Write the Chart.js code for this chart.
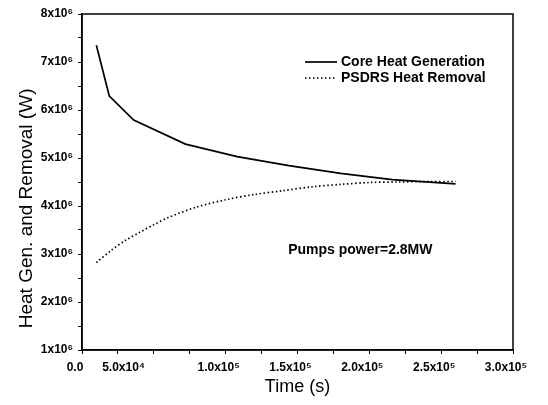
<!DOCTYPE html>
<html>
<head>
<meta charset="utf-8">
<script src="https://cdn.jsdelivr.net/npm/chart.js@4.4.1/dist/chart.umd.min.js"></script>
<style>
  html, body { margin: 0; padding: 0; background: #fff; }
  #wrap { width: 548px; height: 405px; }
</style>
</head>
<body>
<div id="wrap"><canvas id="heatChart"></canvas></div>
<script>
// values: time in s, power in W
const coreTime = [10000, 19000, 36000, 72000, 108000, 144000, 180000, 216000, 260000];
const coreHeat = [7.35e6, 6.29e6, 5.79e6, 5.29e6, 5.03e6, 4.84e6, 4.68e6, 4.55e6, 4.46e6];

const psdrsTime = [10000, 20000, 30000, 40000, 50000, 60000, 80000, 100000, 120000, 140000, 160000, 180000, 200000, 220000, 240000, 260000];
const psdrsHeat = [2.82e6, 3.07e6, 3.28e6, 3.45e6, 3.61e6, 3.76e6, 3.98e6, 4.13e6, 4.24e6, 4.32e6, 4.40e6, 4.45e6, 4.49e6, 4.50e6, 4.51e6, 4.51e6];

const seriesNames = ['Core Heat Generation', 'PSDRS Heat Removal'];

// tick labels as printed (the 5.0x10^4 one sits left of its tick in the original)
const xTickValues = [0, 50000, 100000, 150000, 200000, 250000, 300000];
const xTickLabels = ['0.0', '5.0x10⁴              ', '1.0x10⁵', '1.5x10⁵', '2.0x10⁵', '2.5x10⁵', '3.0x10⁵'];
const yTickValues = [1e6, 2e6, 3e6, 4e6, 5e6, 6e6, 7e6, 8e6];
const yTickLabels = ['1x10⁶', '2x10⁶', '3x10⁶', '4x10⁶', '5x10⁶', '6x10⁶', '7x10⁶', '8x10⁶'];

const noteText = 'Pumps power=2.8MW';
const noteAt = {x: 143500, y: 3.08e6};

const toXY = (xs, ys) => xs.map((x, i) => ({x: x, y: ys[i]}));

const fontFam = '"Liberation Sans", Arial, sans-serif';

const framePlugin = {
    id: 'frame',
    afterDraw(chart) {
        const {ctx, chartArea: a, scales} = chart;
        ctx.save();
        ctx.strokeStyle = '#000';
        ctx.lineWidth = 1.5;
        ctx.strokeRect(a.left, a.top, a.right - a.left, a.bottom - a.top);

        // legend inside the plot, upper right
        ctx.font = 'bold 14px ' + fontFam;
        ctx.fillStyle = '#000';
        ctx.textBaseline = 'middle';
        chart.data.datasets.forEach((ds, i) => {
            const y = 62 + i * 16;
            ctx.beginPath();
            ctx.lineWidth = ds.borderWidth;
            ctx.setLineDash(ds.borderDash || []);
            ctx.moveTo(305, y);
            ctx.lineTo(337, y);
            ctx.stroke();
            ctx.setLineDash([]);
            ctx.fillText(ds.label, 341, y);
        });

        ctx.font = 'bold 14px ' + fontFam;
        ctx.fillText(noteText, scales.x.getPixelForValue(noteAt.x), scales.y.getPixelForValue(noteAt.y));
        ctx.restore();
    }
};

function labelFor(values, labels) {
    return v => {
        const i = values.indexOf(v);
        return i >= 0 ? labels[i] : '';
    };
}

new Chart('heatChart', {
    type: 'line',
    data: {
        datasets: [
            {
                label: seriesNames[0],
                data: toXY(coreTime, coreHeat),
                borderColor: '#000',
                borderWidth: 1.7,
                pointRadius: 0,
                tension: 0
            },
            {
                label: seriesNames[1],
                data: toXY(psdrsTime, psdrsHeat),
                borderColor: '#000',
                borderWidth: 1.7,
                borderDash: [1.5, 2.5],
                pointRadius: 0,
                tension: 0.3
            }
        ]
    },
    options: {
        responsive: true,
        maintainAspectRatio: false,
        animation: false,
        layout: { padding: { top: 14, right: 35, bottom: 7, left: 0 } },
        plugins: {
            legend: { display: false },
            tooltip: { enabled: false }
        },
        scales: {
            x: {
                type: 'linear',
                min: 0,
                max: 300000,
                afterFit(scale) { scale.height = 48; },
                ticks: {
                    stepSize: 25000,
                    autoSkip: false,
                    maxRotation: 0,
                    padding: 6,
                    labelOffset: -7,
                    color: '#000',
                    font: { family: fontFam, size: 12, weight: 'bold' },
                    callback: labelFor(xTickValues, xTickLabels)
                },
                grid: { drawOnChartArea: false, color: '#000', tickLength: 4 },
                border: { color: '#000', width: 1.5 },
                title: {
                    display: true,
                    text: 'Time (s)',
                    color: '#000',
                    font: { family: fontFam, size: 18 },
                    padding: { top: 2, bottom: 0 }
                }
            },
            y: {
                type: 'linear',
                min: 1e6,
                max: 8e6,
                afterFit(scale) { scale.width = 82; },
                ticks: {
                    stepSize: 5e5,
                    autoSkip: false,
                    padding: 5,
                    color: '#000',
                    font: { family: fontFam, size: 12, weight: 'bold' },
                    callback: labelFor(yTickValues, yTickLabels)
                },
                grid: { drawOnChartArea: false, color: '#000', tickLength: 4 },
                border: { color: '#000', width: 1.5 },
                title: {
                    display: true,
                    // trailing spaces push the printed title down, as in the original
                    text: 'Heat Gen. and Removal (W)          ',
                    color: '#000',
                    font: { family: fontFam, size: 19 },
                    padding: { top: 15, bottom: 0 }
                }
            }
        }
    },
    plugins: [framePlugin]
});
</script>
</body>
</html>
